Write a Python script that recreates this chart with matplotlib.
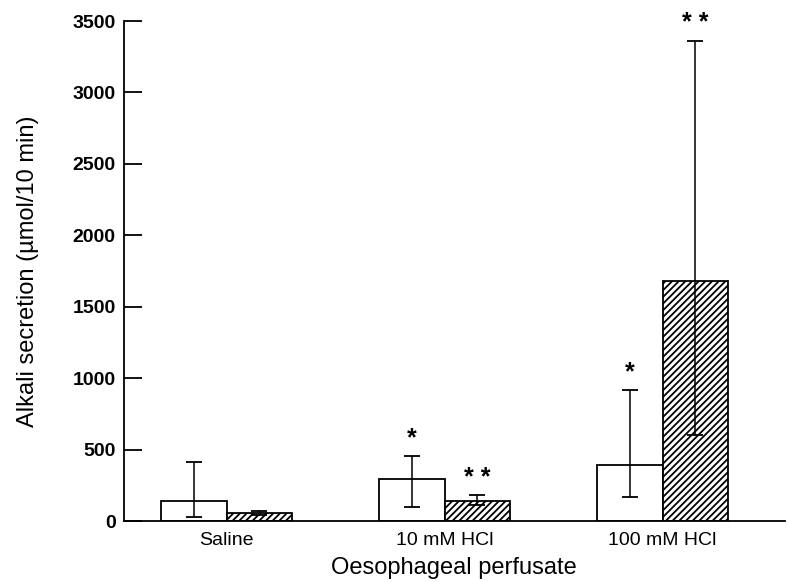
import matplotlib.pyplot as plt
import numpy as np

plt.rcParams['font.family'] = ['Liberation Sans', 'DejaVu Sans']
plt.rcParams['hatch.linewidth'] = 1.3

categories = ["Saline", "10 mM HCl", "100 mM HCl"]
# open bars
open_mean = [140, 295, 390]
open_low = [30, 100, 165]
open_high = [415, 455, 920]
open_stars = ["", "*", "*"]
# hatched bars
hatch_mean = [58, 140, 1680]
hatch_low = [45, 110, 600]
hatch_high = [68, 180, 3360]
hatch_stars = ["", "* *", "* *"]

x = np.arange(len(categories))
w = 0.30

fig = plt.figure(figsize=(7.87, 5.82), dpi=100)
ax = fig.add_axes([0.1576, 0.1048, 0.8394, 0.8591])

def errs(mean, low, high):
    mean = np.array(mean)
    return [mean - np.array(low), np.array(high) - mean]

ax.bar(x - w/2, open_mean, w, color='white', edgecolor='black', linewidth=1.3,
       yerr=errs(open_mean, open_low, open_high), capsize=6,
       error_kw=dict(elinewidth=1.1, capthick=1.3))
ax.bar(x + w/2, hatch_mean, w, color='white', edgecolor='black', linewidth=1.3,
       hatch='/////', yerr=errs(hatch_mean, hatch_low, hatch_high), capsize=6,
       error_kw=dict(elinewidth=1.1, capthick=1.3))

for i in range(len(categories)):
    if open_stars[i]:
        ax.text(x[i] - w/2, open_high[i] + 40, open_stars[i], ha='center', va='bottom',
                fontsize=18, fontweight='bold')
    if hatch_stars[i]:
        ax.text(x[i] + w/2, hatch_high[i] + 40, hatch_stars[i], ha='center', va='bottom',
                fontsize=18, fontweight='bold')

ax.set_xlim(-0.47, 2.56)
ax.set_ylim(0, 3500)
ax.set_yticks(np.arange(0, 3501, 500))
ax.set_xticks(x)
ax.set_xticklabels(categories, fontsize=14)
ax.tick_params(axis='x', length=0, pad=8)
ax.tick_params(axis='y', direction='in', length=13, width=1.3, labelsize=14, pad=6)
for lab in ax.get_yticklabels():
    lab.set_fontweight('bold')
ax.spines['top'].set_visible(False)
ax.spines['right'].set_visible(False)
ax.spines['left'].set_linewidth(1.3)
ax.spines['bottom'].set_linewidth(1.3)

ax.set_xlabel("Oesophageal perfusate", fontsize=17, labelpad=6)
ax.set_ylabel("Alkali secretion (\u00b5mol/10 min)", fontsize=17, labelpad=24)

fig.savefig("out.png", dpi=100)
